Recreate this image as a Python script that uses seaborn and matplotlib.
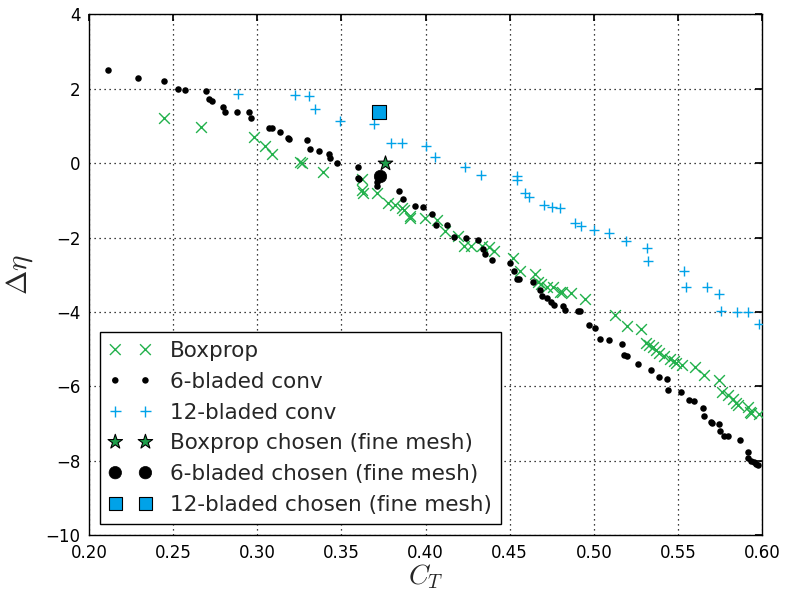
import matplotlib
matplotlib.use("Agg")
import matplotlib.pyplot as plt
import seaborn as sns
import pandas as pd

# Boxprop sweep
box_ct = [0.2447, 0.2665, 0.2980, 0.3045, 0.3088, 0.3255, 0.3265, 0.3391, 0.3621, 0.3621,
          0.3627, 0.3714, 0.3778, 0.3820, 0.3859, 0.3874, 0.3906, 0.3909, 0.3999, 0.4071,
          0.4115, 0.4191, 0.4228, 0.4270, 0.4336, 0.4377, 0.4409, 0.4522, 0.4564, 0.4653,
          0.4671, 0.4686, 0.4723, 0.4757, 0.4799, 0.4811, 0.4862, 0.4950, 0.5128, 0.5200,
          0.5281, 0.5308, 0.5331, 0.5351, 0.5371, 0.5387, 0.5420, 0.5452, 0.5476, 0.5490,
          0.5527, 0.5600, 0.5656, 0.5743, 0.5763, 0.5799, 0.5826, 0.5846, 0.5856, 0.5917,
          0.5927, 0.5937, 0.5985]
box_deta = [1.21, 0.98, 0.71, 0.46, 0.23, 0.03, 0.00, -0.23, -0.44, -0.72,
            -0.80, -0.81, -1.08, -1.14, -1.20, -1.26, -1.43, -1.48, -1.48, -1.54,
            -1.83, -1.96, -2.23, -2.23, -2.24, -2.25, -2.36, -2.56, -2.90, -2.98,
            -3.19, -3.25, -3.34, -3.34, -3.47, -3.45, -3.49, -3.64, -4.08, -4.38,
            -4.45, -4.82, -4.89, -4.94, -5.01, -5.11, -5.17, -5.26, -5.32, -5.37,
            -5.42, -5.48, -5.68, -5.82, -6.15, -6.24, -6.33, -6.44, -6.51, -6.55,
            -6.69, -6.71, -6.73]

# 6-bladed conventional propeller sweep
six_ct = [0.2115, 0.2293, 0.2444, 0.2527, 0.2572, 0.2693, 0.2713, 0.2729, 0.2794, 0.2806,
          0.2877, 0.2950, 0.2962, 0.3071, 0.3088, 0.3136, 0.3182, 0.3191, 0.3295, 0.3312,
          0.3368, 0.3429, 0.3431, 0.3471, 0.3597, 0.3600, 0.3605, 0.3713, 0.3710, 0.3841,
          0.3866, 0.3938, 0.3988, 0.4039, 0.4065, 0.4129, 0.4169, 0.4239, 0.4314, 0.4340,
          0.4355, 0.4394, 0.4501, 0.4528, 0.4543, 0.4556, 0.4637, 0.4680, 0.4692, 0.4721,
          0.4744, 0.4765, 0.4818, 0.4829, 0.4904, 0.4916, 0.4970, 0.5005, 0.5040, 0.5088,
          0.5165, 0.5182, 0.5195, 0.5261, 0.5339, 0.5389, 0.5438, 0.5444, 0.5517, 0.5567,
          0.5594, 0.5648, 0.5656, 0.5695, 0.5704, 0.5743, 0.5749, 0.5775, 0.5796, 0.5868,
          0.5919, 0.5919, 0.5935, 0.5951, 0.5967, 0.5979]
six_deta = [2.49, 2.27, 2.19, 2.00, 1.96, 1.92, 1.71, 1.66, 1.50, 1.37,
            1.37, 1.37, 1.20, 0.94, 0.94, 0.84, 0.68, 0.64, 0.63, 0.37,
            0.33, 0.23, 0.13, 0.00, -0.11, -0.39, -0.44, -0.51, -0.62, -0.75,
            -0.96, -1.16, -1.17, -1.38, -1.66, -1.67, -1.99, -2.02, -2.08, -2.32,
            -2.43, -2.60, -2.69, -2.90, -3.11, -3.12, -3.20, -3.40, -3.58, -3.62,
            -3.74, -3.80, -3.85, -3.94, -3.96, -3.98, -4.35, -4.42, -4.73, -4.75,
            -4.87, -5.15, -5.17, -5.39, -5.57, -5.75, -5.81, -6.10, -6.14, -6.35,
            -6.38, -6.59, -6.80, -6.94, -6.98, -7.00, -7.20, -7.32, -7.34, -7.44,
            -7.77, -7.93, -8.01, -8.02, -8.07, -8.12]

# 12-bladed conventional propeller sweep
twelve_ct = [0.2888, 0.3227, 0.3308, 0.3345, 0.3491, 0.3692, 0.3793, 0.3859, 0.4001, 0.4058,
             0.4232, 0.4330, 0.4545, 0.4545, 0.4594, 0.4613, 0.4704, 0.4754, 0.4797, 0.4886,
             0.4926, 0.4999, 0.5092, 0.5191, 0.5318, 0.5325, 0.5539, 0.5547, 0.5676, 0.5745,
             0.5755, 0.5852, 0.5919, 0.5985]
twelve_deta = [1.86, 1.82, 1.79, 1.45, 1.12, 1.06, 0.54, 0.53, 0.45, 0.15,
               -0.12, -0.32, -0.36, -0.46, -0.80, -0.91, -1.14, -1.18, -1.21, -1.60,
               -1.68, -1.80, -1.87, -2.09, -2.28, -2.62, -2.89, -3.32, -3.34, -3.53,
               -3.98, -3.99, -3.99, -4.32]

# Designs chosen for fine-mesh runs
box_chosen = (0.3758, 0.00)
six_chosen = (0.3732, -0.36)
twelve_chosen = (0.3726, 1.37)

GREEN = "#22b14c"
BLUE = "#00a2e8"
STAR = "#1e9e4a"

sns.set_theme(style="white")
plt.rcParams.update({
    "font.family": ["DejaVu Sans"],
    "mathtext.fontset": "cm",
    "axes.edgecolor": "black",
    "axes.linewidth": 1.0,
    "xtick.direction": "in",
    "ytick.direction": "in",
    "xtick.top": True,
    "ytick.right": True,
    "xtick.major.size": 5,
    "ytick.major.size": 5,
    "xtick.color": "black",
    "ytick.color": "black",
    "xtick.labelsize": 12,
    "ytick.labelsize": 12,
})

fig = plt.figure(figsize=(7.85, 5.94), dpi=100)
ax = fig.add_axes([0.1134, 0.0985, 0.8573, 0.8779])

box_df = pd.DataFrame({"ct": box_ct, "deta": box_deta})
six_df = pd.DataFrame({"ct": six_ct, "deta": six_deta})
twelve_df = pd.DataFrame({"ct": twelve_ct, "deta": twelve_deta})

sns.scatterplot(data=box_df, x="ct", y="deta", marker="x", color=GREEN, s=60,
                linewidth=1.0, label="Boxprop", ax=ax, zorder=3)
sns.scatterplot(data=six_df, x="ct", y="deta", marker="o", color="black", s=22,
                linewidth=0, label="6-bladed conv", ax=ax, zorder=3)
sns.scatterplot(data=twelve_df, x="ct", y="deta", marker="+", color=BLUE, s=60,
                linewidth=1.0, label="12-bladed conv", ax=ax, zorder=3)
sns.scatterplot(x=[box_chosen[0]], y=[box_chosen[1]], marker="*", color=STAR, s=120,
                edgecolor="black", linewidth=0.8, label="Boxprop chosen (fine mesh)",
                ax=ax, zorder=4)
sns.scatterplot(x=[six_chosen[0]], y=[six_chosen[1]], marker="o", color="black", s=80,
                edgecolor="black", linewidth=0.5, label="6-bladed chosen (fine mesh)",
                ax=ax, zorder=4)
sns.scatterplot(x=[twelve_chosen[0]], y=[twelve_chosen[1]], marker="s", color=BLUE, s=90,
                edgecolor="black", linewidth=0.8, label="12-bladed chosen (fine mesh)",
                ax=ax, zorder=4)

ax.set_xlim(0.2, 0.6)
ax.set_ylim(-10, 4)
ax.set_xticks([0.20, 0.25, 0.30, 0.35, 0.40, 0.45, 0.50, 0.55, 0.60])
ax.set_xticklabels(["0.20", "0.25", "0.30", "0.35", "0.40", "0.45", "0.50", "0.55", "0.60"])
ax.set_yticks([-10, -8, -6, -4, -2, 0, 2, 4])
ax.set_yticklabels(["\u221210", "\u22128", "\u22126", "\u22124", "\u22122", "0", "2", "4"])
ax.tick_params(axis="both", which="major", pad=6)
ax.grid(True, color="black", linestyle=(0, (1, 3)), linewidth=0.9)
ax.set_axisbelow(True)

ax.set_xlabel(r"$C_T$", fontsize=20, labelpad=0)
ax.set_ylabel(r"$\Delta\eta$", fontsize=21, labelpad=8)

leg = ax.legend(loc="lower left", bbox_to_anchor=(0.016, 0.022), borderaxespad=0,
                fontsize=15.5, scatterpoints=2, scatteryoffsets=[0.5],
                handlelength=2.0, handletextpad=0.85, labelspacing=0.5,
                borderpad=0.42, fancybox=False, framealpha=1, edgecolor="black")
leg.get_frame().set_linewidth(1.0)

fig.savefig("out.png", dpi=100)
